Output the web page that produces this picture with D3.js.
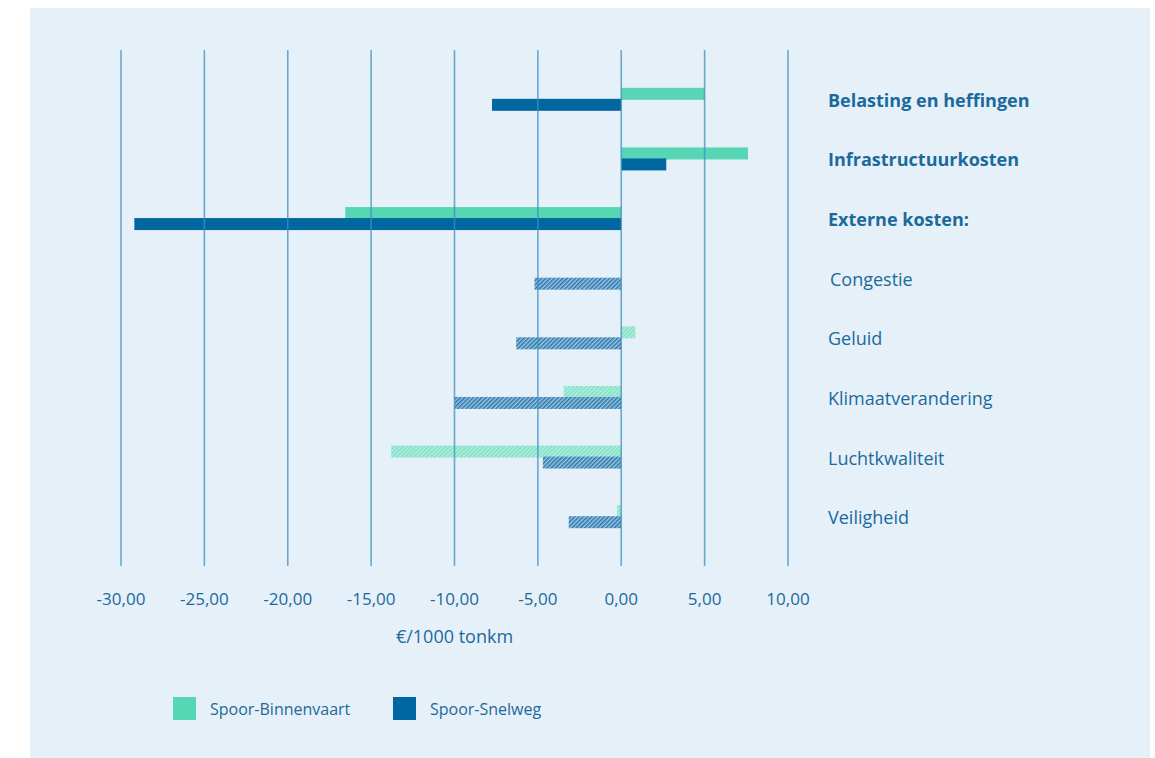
<!DOCTYPE html>
<html>
<head>
<meta charset="utf-8">
<script src="https://cdn.jsdelivr.net/npm/d3@7"></script>
<style>
  body { margin: 0; background: #fff; }
  svg text { font-family: "Open Sans", Lato, sans-serif; }
</style>
</head>
<body>
<svg id="chart" width="1155" height="758"></svg>
<script>
// categories, top to bottom
const categories = ['Belasting en heffingen', 'Infrastructuurkosten', 'Externe kosten:',
  'Congestie', 'Geluid', 'Klimaatverandering', 'Luchtkwaliteit', 'Veiligheid'];
const boldCats = ['Belasting en heffingen', 'Infrastructuurkosten', 'Externe kosten:'];

// €/1000 tonkm
const binnenvaart = [5.0, 7.6, -16.55, 0, 0.85, -3.45, -13.8, -0.25];
const snelweg = [-7.75, 2.7, -29.2, -5.2, -6.3, -10.0, -4.7, -3.15];

const tickValues = [-30, -25, -20, -15, -10, -5, 0, 5, 10];
const seriesNames = ['Spoor-Binnenvaart', 'Spoor-Snelweg'];

const green = '#57d6b4';
const blue = '#0067a0';
const textBlue = '#1b6a9c';

const svg = d3.select('#chart');

// light panel
svg.append('rect')
  .attr('x', 30).attr('y', 8)
  .attr('width', 1120).attr('height', 750)
  .attr('fill', '#e6f0f9');

// hatch patterns for the detailed external costs
const defs = svg.append('defs');
const makeHatch = (id, bg, fg) => {
  const p = defs.append('pattern')
    .attr('id', id)
    .attr('patternUnits', 'userSpaceOnUse')
    .attr('width', 3).attr('height', 3)
    .attr('patternTransform', 'rotate(45)');
  p.append('rect').attr('width', 3).attr('height', 3).attr('fill', bg);
  p.append('rect').attr('width', 1.5).attr('height', 3).attr('fill', fg);
};
makeHatch('hatch-green', '#b5eedd', '#7fe0c6');
makeHatch('hatch-blue', '#9cc4df', '#2a77ad');

const xScale = d3.scaleLinear()
  .domain([-30, 10])
  .range([121, 788]);

const yScale = d3.scaleBand()
  .domain(categories)
  .range([70, 547])
  .padding(0);

const barH = 12;

const rows = categories.map((c, i) => ({ cat: c, bv: binnenvaart[i], sw: snelweg[i], i: i }));

const g = svg.append('g');

// green bars (upper)
g.selectAll('rect.bv').data(rows.filter(d => d.bv !== 0))
  .enter().append('rect')
  .attr('class', 'bv')
  .attr('x', d => xScale(Math.min(0, d.bv)))
  .attr('width', d => Math.abs(xScale(d.bv) - xScale(0)))
  .attr('y', d => yScale(d.cat) + yScale.bandwidth() / 2 - barH)
  .attr('height', barH)
  .attr('fill', d => d.i < 3 ? green : 'url(#hatch-green)');

// blue bars (lower)
g.selectAll('rect.sw').data(rows.filter(d => d.sw !== 0))
  .enter().append('rect')
  .attr('class', 'sw')
  .attr('x', d => xScale(Math.min(0, d.sw)))
  .attr('width', d => Math.abs(xScale(d.sw) - xScale(0)))
  .attr('y', d => yScale(d.cat) + yScale.bandwidth() / 2 - 1)
  .attr('height', barH)
  .attr('fill', d => d.i < 3 ? blue : 'url(#hatch-blue)');

// vertical grid lines over the bars
svg.append('g').selectAll('line').data(tickValues)
  .enter().append('line')
  .attr('x1', d => xScale(d)).attr('x2', d => xScale(d))
  .attr('y1', 50).attr('y2', 566)
  .attr('stroke', '#3f8fc2')
  .attr('stroke-opacity', 0.75)
  .attr('stroke-width', 1.6);

// tick labels
const fmt = v => d3.format('.2f')(v).replace('.', ',').replace('−', '-');
svg.append('g').selectAll('text').data(tickValues)
  .enter().append('text')
  .attr('x', d => xScale(d))
  .attr('y', 605)
  .attr('text-anchor', 'middle')
  .attr('fill', textBlue)
  .style('font-size', '17px')
  .text(d => fmt(d));

// axis title
svg.append('text')
  .attr('x', xScale(-10))
  .attr('y', 643)
  .attr('text-anchor', 'middle')
  .attr('fill', textBlue)
  .style('font-size', '18px')
  .text('€/1000 tonkm');

// category labels
svg.append('g').selectAll('text').data(categories)
  .enter().append('text')
  .attr('x', d => d === 'Congestie' ? 830 : 828)
  .attr('y', d => yScale(d) + yScale.bandwidth() / 2 + 7)
  .attr('fill', textBlue)
  .style('font-size', '18px')
  .style('font-weight', d => boldCats.includes(d) ? 700 : 400)
  .text(d => d);

// legend
const legend = svg.append('g');
const legX = [173, 393];
seriesNames.forEach((name, i) => {
  legend.append('rect')
    .attr('x', legX[i]).attr('y', 697)
    .attr('width', 23).attr('height', 23)
    .attr('fill', i === 0 ? green : blue);
  legend.append('text')
    .attr('x', legX[i] + 37).attr('y', 715)
    .attr('fill', textBlue)
    .style('font-size', '16px')
    .text(name);
});
</script>
</body>
</html>
